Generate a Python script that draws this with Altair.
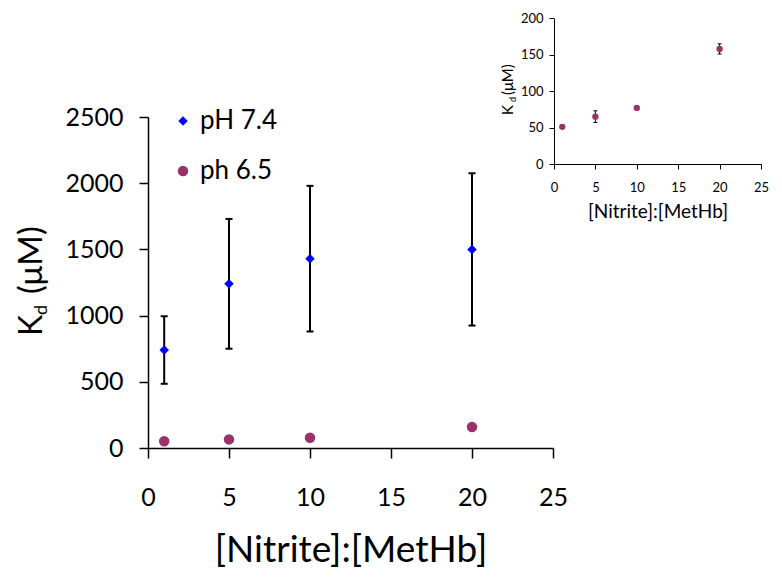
import altair as alt
import pandas as pd

# ---- data ----
ratio = [1, 5, 10, 20]
kd_74 = [740, 1240, 1430, 1500]
err_74 = [255, 490, 550, 575]
kd_65 = [51, 65, 77, 158]
err_65 = [2, 8, 2, 7]
series = ["pH 7.4", "ph 6.5"]
colors = ["#0000FF", "#993366"]
shapes = ["diamond", "circle"]
x_ticks = [0, 5, 10, 15, 20, 25]
y_ticks_main = [0, 500, 1000, 1500, 2000, 2500]
y_ticks_inset = [0, 50, 100, 150, 200]
x_title = "[Nitrite]:[MetHb]"
y_parts = ["K", "d", "(μM)"]

FONT = "Lato"

rows = []
for name, kd, err in [(series[0], kd_74, err_74), (series[1], kd_65, err_65)]:
    for r, k, e in zip(ratio, kd, err):
        rows.append({"series": name, "ratio": r, "kd": k, "lo": k - e, "hi": k + e})
main_df = pd.DataFrame(rows)
inset_df = pd.DataFrame({"ratio": ratio, "kd": kd_65,
                         "lo": [k - e for k, e in zip(kd_65, err_65)],
                         "hi": [k + e for k, e in zip(kd_65, err_65)]})

# ---- main panel ----
mx_scale = alt.Scale(domain=[0, 25], nice=False)
my_scale = alt.Scale(domain=[0, 2500], nice=False)
mx_axis = alt.Axis(values=x_ticks, title=x_title, tickSize=10, labelFontSize=25,
                   labelPadding=27, titleFontSize=37, titlePadding=22,
                   domainWidth=1.5, tickWidth=1.5, labelFlush=False, format="d")
my_axis = alt.Axis(values=y_ticks_main, title=None, tickSize=9, labelFontSize=25,
                   labelPadding=16, domainWidth=1.5, tickWidth=1.5, labelFlush=False,
                   format="d")

base = alt.Chart(main_df)
m_rule = base.mark_rule(color="black", strokeWidth=2).encode(
    x=alt.X("ratio:Q", scale=mx_scale, axis=mx_axis),
    y=alt.Y("lo:Q", scale=my_scale, axis=my_axis),
    y2="hi:Q",
)
cap_path = "M-1,0L1,0"
m_cap_lo = base.mark_point(shape=cap_path, filled=False, color="black",
                           strokeWidth=2, size=49, opacity=1).encode(
    x=alt.X("ratio:Q", scale=mx_scale, axis=mx_axis),
    y=alt.Y("lo:Q", scale=my_scale, axis=my_axis),
)
m_cap_hi = base.mark_point(shape=cap_path, filled=False, color="black",
                           strokeWidth=2, size=49, opacity=1).encode(
    x=alt.X("ratio:Q", scale=mx_scale, axis=mx_axis),
    y=alt.Y("hi:Q", scale=my_scale, axis=my_axis),
)
m_pts = base.mark_point(filled=True, opacity=1, strokeWidth=0).encode(
    x=alt.X("ratio:Q", scale=mx_scale, axis=mx_axis),
    y=alt.Y("kd:Q", scale=my_scale, axis=my_axis),
    color=alt.Color("series:N", scale=alt.Scale(domain=series, range=colors),
                    legend=alt.Legend(orient="none", legendX=22, legendY=-9, title=None,
                                      labelFontSize=26, labelFont=FONT, rowPadding=24,
                                      labelOffset=4, padding=0, symbolSize=100,
                                      symbolStrokeWidth=0, symbolOpacity=1,
                                      labelColor="black")),
    shape=alt.Shape("series:N", scale=alt.Scale(domain=series, range=shapes)),
    size=alt.Size("series:N", scale=alt.Scale(domain=series, range=[90, 110]), legend=None),
)
main = alt.layer(m_rule, m_cap_lo, m_cap_hi, m_pts)

# ---- inset panel ----
ix_scale = alt.Scale(domain=[0, 25], range=[406, 613], nice=False)
iy_scale = alt.Scale(domain=[0, 200], range=[47, -98.7], nice=False)
ix_axis = alt.Axis(orient="bottom", offset=-284, values=x_ticks, title=x_title,
                   tickSize=5, labelFontSize=13, labelPadding=12, titleFontSize=19,
                   titlePadding=8, domainWidth=1, tickWidth=1, labelFlush=False)
iy_axis = alt.Axis(orient="left", offset=-406, values=y_ticks_inset, title=None,
                   tickSize=5, labelFontSize=13, labelPadding=6, domainWidth=1,
                   tickWidth=1, labelFlush=False)
ibase = alt.Chart(inset_df)
i_rule = ibase.mark_rule(color="black", strokeWidth=1).encode(
    x=alt.X("ratio:Q", scale=ix_scale, axis=ix_axis),
    y=alt.Y("lo:Q", scale=iy_scale, axis=iy_axis),
    y2="hi:Q",
)
i_cap_lo = ibase.mark_point(shape=cap_path, filled=False, color="black",
                            strokeWidth=1, size=16, opacity=1).encode(
    x=alt.X("ratio:Q", scale=ix_scale, axis=ix_axis),
    y=alt.Y("lo:Q", scale=iy_scale, axis=iy_axis),
)
i_cap_hi = ibase.mark_point(shape=cap_path, filled=False, color="black",
                            strokeWidth=1, size=16, opacity=1).encode(
    x=alt.X("ratio:Q", scale=ix_scale, axis=ix_axis),
    y=alt.Y("hi:Q", scale=iy_scale, axis=iy_axis),
)
i_pts = ibase.mark_point(filled=True, opacity=1, strokeWidth=0, shape="circle",
                         size=40, color=colors[1]).encode(
    x=alt.X("ratio:Q", scale=ix_scale, axis=ix_axis),
    y=alt.Y("kd:Q", scale=iy_scale, axis=iy_axis),
)
inset = alt.layer(i_rule, i_cap_lo, i_cap_hi, i_pts)

# ---- y titles with subscript ----
tdf = pd.DataFrame({"t": y_parts})


def ytitle(part, size, x, y):
    return alt.Chart(tdf).transform_filter(alt.datum.t == part).mark_text(
        angle=270, align="left", baseline="alphabetic", fontSize=size,
        font=FONT, color="black").encode(text="t:N", x=alt.value(x), y=alt.value(y))


titles = alt.layer(
    ytitle("K", 32, -106, 219),
    ytitle("d", 18, -101, 198),
    ytitle("(μM)", 33, -106, 177),
    ytitle("K", 15, 365, -2),
    ytitle("d", 9, 368, -15),
    ytitle("(μM)", 15, 365, -22),
)

chart = alt.layer(main, inset, titles).resolve_scale(
    x="independent", y="independent"
).properties(
    width=405, height=331,
    autosize=alt.AutoSizeParams(type="none"),
    padding={"left": 140, "top": 109, "right": 221, "bottom": 126},
    background="white",
).configure_view(stroke=None).configure_axis(
    grid=False, domainColor="black", tickColor="black", labelColor="black",
    titleColor="black", labelFont=FONT, titleFont=FONT, titleFontWeight="normal",
)

chart.save("out.html", embed_options={"renderer": "svg", "actions": False})
